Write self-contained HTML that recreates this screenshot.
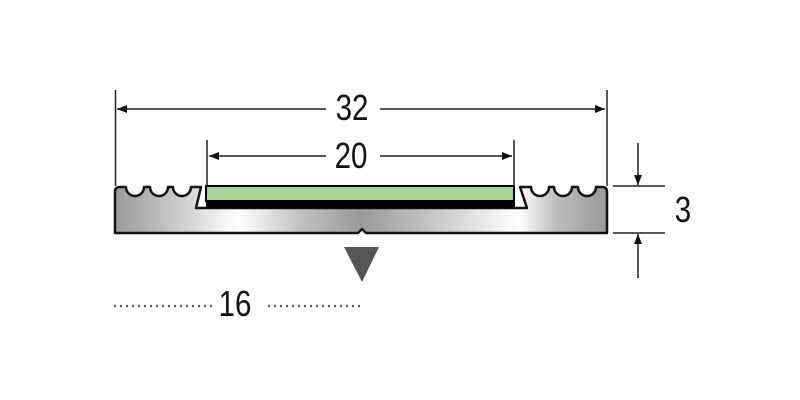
<!DOCTYPE html>
<html><head><style>
html,body{margin:0;padding:0;background:#fff;width:800px;height:400px;overflow:hidden}
text{font-family:"Liberation Sans",sans-serif}
</style></head><body>
<svg width="800" height="400" viewBox="0 0 800 400" xmlns="http://www.w3.org/2000/svg">
<defs>
<linearGradient id="m" x1="0" y1="0" x2="1" y2="0">
<stop offset="0" stop-color="#9a9a9a"/>
<stop offset="0.12" stop-color="#c8c8c8"/>
<stop offset="0.25" stop-color="#ffffff"/>
<stop offset="0.38" stop-color="#c0c0c0"/>
<stop offset="0.5" stop-color="#999"/>
<stop offset="0.65" stop-color="#c8c8c8"/>
<stop offset="0.82" stop-color="#fff"/>
<stop offset="0.9" stop-color="#bbb"/>
<stop offset="1" stop-color="#999"/>
</linearGradient>
<marker id="a" markerWidth="10" markerHeight="8" refX="10" refY="4" orient="auto" markerUnits="userSpaceOnUse"><path d="M0,0 L10,4 L0,8 Z" fill="#111"/></marker>
</defs>
<path d="M115,192 Q115,187 120,187 L126,187 A9,9 0 0 0 144,187 L150,187 A9,9 0 0 0 168,187 L173,187 A9,9 0 0 0 191,187 L201,187 L196,208 L527,208 L520,187 L531,187 A9,9 0 0 0 549,187 L554,187 A9,9 0 0 0 572,187 L578,187 A9,9 0 0 0 596,187 L602,187 Q607,187 607,192 L607,233 L366,233 L362,229 L358,233 L115,233 Z" fill="url(#m)" stroke="#111" stroke-width="2.5" stroke-linejoin="round"/>
<rect x="206" y="186" width="308" height="15" fill="#a4d496" stroke="#000" stroke-width="2"/>
<rect x="206" y="201" width="309" height="7" fill="#000"/>
<g stroke="#222" stroke-width="1.5">
<line x1="115.5" y1="90" x2="115.5" y2="186"/>
<line x1="607" y1="90" x2="607" y2="186"/>
<line x1="207" y1="140" x2="207" y2="186"/>
<line x1="514" y1="140" x2="514" y2="186"/>
<line x1="326" y1="109" x2="117" y2="109" marker-end="url(#a)"/>
<line x1="380" y1="109" x2="605" y2="109" marker-end="url(#a)"/>
<line x1="326" y1="156" x2="209" y2="156" marker-end="url(#a)"/>
<line x1="380" y1="156" x2="512" y2="156" marker-end="url(#a)"/>
<line x1="638" y1="143" x2="638" y2="185" marker-end="url(#a)"/>
<line x1="638" y1="278" x2="638" y2="234" marker-end="url(#a)"/>
<line x1="613" y1="186" x2="665" y2="186"/>
<line x1="613" y1="233" x2="665" y2="233"/>
</g>
<g font-size="36" fill="#111" text-anchor="middle">
<text x="352" y="120" transform="translate(352,0) scale(0.82,1) translate(-352,0)">32</text>
<text x="351" y="168" transform="translate(351,0) scale(0.82,1) translate(-351,0)">20</text>
<text x="683" y="222" transform="translate(683,0) scale(0.82,1) translate(-683,0)">3</text>
<text x="235" y="316" transform="translate(235,0) scale(0.82,1) translate(-235,0)">16</text>
</g>
<path d="M344,247 L379,247 L362,282 Z" fill="#555"/>
<g stroke="#555" stroke-width="2.2" stroke-dasharray="2,4">
<line x1="114" y1="306" x2="215" y2="306"/>
<line x1="268" y1="306" x2="362" y2="306"/>
</g>
</svg>
</body></html>
